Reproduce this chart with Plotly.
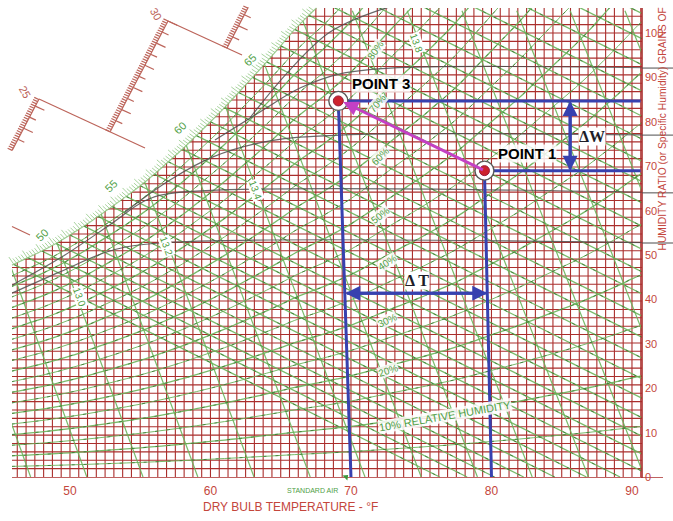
import numpy as np
import plotly.graph_objects as go

# ---------------------------------------------------------------- chart data
# Saturation humidity ratio (grains of moisture per lb of dry air) by dry-bulb °F
T_SAT = list(range(45, 92))
W_SAT = [46.4, 47.9, 49.4, 50.9, 52.6, 54.5, 56.5, 58.7, 60.9, 63.2,
         65.6, 68.2, 71.0, 73.8, 76.9, 80.0, 83.2, 86.6, 90.0, 93.5,
         97.1, 100.8, 104.0, 107.0, 110.4, 114.0, 118.1, 122.4, 126.7, 130.8,
         135.0, 139.5, 144.0, 149.0, 154.5, 160.0, 165.5, 171.0, 177.0, 183.0,
         189.0, 195.0, 201.5, 208.5, 215.5, 223.0, 230.0]

RH_LINES = [5, 10, 15, 20, 25, 30, 35, 40, 45, 50, 55, 60, 65, 70, 75, 80, 85, 90, 95]
RH_LABELS = ["10% RELATIVE HUMIDITY", "20%", "30%", "40%", "50%", "60%", "70%", "80%"]

WB_TEMPS = list(range(46, 91))          # wet-bulb lines, °F at saturation
WB_SLOPE = 1.58                         # grains lost per °F along a wet-bulb line

SV_VALUES = [12.8, 12.9, 13.0, 13.1, 13.2, 13.3, 13.4, 13.5, 13.6, 13.7, 13.8, 13.9, 14.0, 14.1, 14.2]
SV_T_DRY = [47.2, 51.2, 55.2, 59.1, 63.1, 67.1, 71.0, 75.0, 79.0, 82.9, 86.9, 90.9, 94.8, 98.8, 102.8]
SV_T_TOP = [35.3, 39.2, 43.0, 46.9, 50.8, 54.7, 58.5, 62.4, 66.3, 70.1, 74.0, 77.9, 81.8, 85.6, 89.5]
SV_W_TOP = 105.0
SV_LABELS = ["13.0", "13.2", "13.4", "13.8"]

WB_LABELS = ["50", "55", "60", "65"]

# dark constant-moisture curves (dry-bulb °F, grains)
DARK_T = [[45.87, 49.29, 52.85, 56.41, 92.92],
          [45.87, 49.29, 52.85, 55.34, 57.47, 92.92],
          [53.92, 57.12, 60.18, 64.23, 69.22, 92.92],
          [60.32, 63.52, 66.37, 69.22, 72.78, 92.92],
          [62.81, 65.66, 68.51, 72.07, 74.91]]
DARK_W = [[41.4, 46.2, 50.9, 52.7, 52.7],
          [43.2, 49.3, 56.8, 62.2, 64.0, 64.0],
          [59.7, 66.9, 72.1, 75.7, 77.0, 77.0],
          [75.9, 82.2, 87.6, 90.8, 92.1, 92.1],
          [80.9, 91.7, 100.2, 105.2, 107.4]]

POINT_NAMES = ["POINT 1", "POINT 3"]
POINT_T = [79.5, 69.1]
POINT_W = [69.0, 84.7]
DROP_T = [80.0, 70.0]            # where each state point drops onto the dry-bulb axis
DELTA_T_AT_W = 41.4
DELTA_T_ENDS = [69.6, 79.7]
DELTA_W_AT_T = 85.6

ENTHALPY_MARKS = ["25", "30"]

X_TICKS = [50, 60, 70, 80, 90]
Y_TICKS = [0, 10, 20, 30, 40, 50, 60, 70, 80, 90, 100]

# ---------------------------------------------------------------- geometry
W_PX, H_PX, B_MARGIN = 673, 521, 43
PLOT_H = H_PX - B_MARGIN
T_MIN, T_MAX = 45.02, 92.92
W_MIN, W_MAX = -0.23, 107.43
PX_T = W_PX / (T_MAX - T_MIN)
PX_W = PLOT_H / (W_MAX - W_MIN)


def px2t(x):
    return T_MIN + x / PX_T


def px2w(y):
    return W_MAX - y / PX_W


def t2px(t):
    return (t - T_MIN) * PX_T


def w2px(w):
    return (W_MAX - w) * PX_W


T_LEFT, T_RIGHT, W_TOP = px2t(12), px2t(642), px2w(8)

RED = "rgb(170,46,44)"
RED_TXT = "rgb(196,70,60)"
GREEN = "rgba(105,180,90,0.9)"
GREEN_DASH = "rgba(50,110,45,0.75)"
GREEN_TXT = "rgb(80,160,70)"
DARK = "rgba(80,80,80,0.85)"
BLUE = "rgb(55,65,175)"
MAGENTA = "rgb(196,64,196)"
RULER = "rgb(188,100,90)"
NARROW = "Liberation Sans Narrow, Arial Narrow, Liberation Sans, Arial, sans-serif"

fig = go.Figure()


def segs(pairs):
    xs, ys = [], []
    for (a, b) in pairs:
        xs += [a[0], b[0], None]
        ys += [a[1], b[1], None]
    return xs, ys


def add_lines(xs, ys, color, width, dash=None, shape="linear"):
    fig.add_trace(go.Scatter(x=xs, y=ys, mode="lines", hoverinfo="skip",
                             line=dict(color=color, width=width, dash=dash, shape=shape)))


# red graph-paper grid
v_lines = np.arange(46.25, T_RIGHT, 0.625)
xs, ys = segs([((t, 0), (t, W_TOP)) for t in v_lines])
add_lines(xs, ys, RED, 1.1)
h_lines = np.arange(100 / 53, W_TOP, 100 / 53)
xs, ys = segs([((T_LEFT, w), (T_RIGHT, w)) for w in h_lines])
add_lines(xs, ys, RED, 1.1)

# wet-bulb lines
wb = []
for t in WB_TEMPS:
    ws = W_SAT[T_SAT.index(t)]
    wb.append(((t, ws), (t + ws / WB_SLOPE, 0)))
xs, ys = segs(wb)
add_lines(xs, ys, GREEN, 1.3)
add_lines(xs, ys, GREEN_DASH, 1, dash="3px,9px")

# specific-volume lines
xs, ys = segs([((a, 0), (b, SV_W_TOP)) for a, b in zip(SV_T_DRY, SV_T_TOP)])
add_lines(xs, ys, GREEN, 1.2)

# relative-humidity curves
for p in RH_LINES:
    rh_w = [p / 100 * w for w in W_SAT]
    add_lines(T_SAT, rh_w, GREEN, 1.3 if p % 10 == 0 else 1.0, shape="spline")
    add_lines(T_SAT, rh_w, GREEN_DASH, 1, dash="3px,9px", shape="spline")

# dark curves
for dt, dw in zip(DARK_T, DARK_W):
    add_lines(dt, dw, DARK, 1.2, shape="spline")

# white mask outside the chart region (above saturation, left, right, top)
mx, my = [], []
mx += [44.0, T_LEFT, T_LEFT, 44.0, 44.0, None]
my += [-2, -2, 112, 112, -2, None]
w_left = W_SAT[0] + (T_LEFT - T_SAT[0]) * (W_SAT[1] - W_SAT[0])
curve_t = [T_LEFT] + [t for t, w in zip(T_SAT, W_SAT) if T_LEFT < t and w < W_TOP]
curve_w = [w_left] + [w for t, w in zip(T_SAT, W_SAT) if T_LEFT < t and w < W_TOP]
next_w = W_SAT[T_SAT.index(curve_t[-1]) + 1]
t_cross = curve_t[-1] + (W_TOP - curve_w[-1]) / (next_w - curve_w[-1])
curve_t.append(t_cross)
curve_w.append(W_TOP)
mx += curve_t + [T_RIGHT, T_RIGHT, T_LEFT, T_LEFT, None]
my += curve_w + [W_TOP, 112, 112, w_left, None]
mx += [T_RIGHT, 94, 94, T_RIGHT, T_RIGHT]
my += [-2, -2, 112, 112, -2]
fig.add_trace(go.Scatter(x=mx, y=my, mode="lines", fill="toself", fillcolor="white",
                         line=dict(width=0, color="white"), hoverinfo="skip"))

# saturation curve with hatching
HATCH = "rgba(125,190,110,0.75)"
add_lines(curve_t, curve_w, HATCH, 1.2, shape="spline")
cx = np.array([t2px(t) for t in curve_t])
cy = np.array([w2px(w) for w in curve_w])
seg_len = np.hypot(np.diff(cx), np.diff(cy))
arc = np.concatenate([[0], np.cumsum(seg_len)])
hatch = []
for k, s in enumerate(np.arange(2, arc[-1] - 1, 3.0)):
    px_ = np.interp(s, arc, cx)
    py_ = np.interp(s, arc, cy)
    j = min(np.searchsorted(arc, s) - 1, len(seg_len) - 1)
    tx_, ty_ = (cx[j + 1] - cx[j]) / seg_len[j], (cy[j + 1] - cy[j]) / seg_len[j]
    nx_, ny_ = ty_, -tx_
    L = 8 if k % 5 == 0 else 5
    hatch.append(((px2t(px_), px2w(py_)), (px2t(px_ + L * nx_ - 1.5), px2w(py_ + L * ny_))))
xs, ys = segs(hatch)
add_lines(xs, ys, HATCH, 0.9)

# axes drawn as red rules
add_lines([T_LEFT, px2t(663)], [px2w(478), px2w(478)], RED, 1.6)
add_lines([T_RIGHT, T_RIGHT], [px2w(484), W_TOP], RED, 1.6)

# constant-moisture lines running out past the right axis
for dw in DARK_W[:4]:
    add_lines([T_RIGHT, T_MAX], [dw[-1], dw[-1]], DARK, 1.2)

# stepped enthalpy ruler
d_con = np.array([0.908, 0.42])
u_sp = np.array([0.463, -0.886])
ruler = []
topA = np.array([39.0, 99.0])
botA = topA - 58.0 * u_sp
topB = np.array([168.0, 21.0])
botB = topB - 125.0 * u_sp
botC = np.array([227.0, 48.0])
topC = botC + 46.0 * u_sp
connectors = [(np.array([12.0, 226.5]), np.array([30.0, 235.0])),
              (topA, np.array([145.0, 148.0])),
              (topB, np.array([242.0, 55.0]))]
for a, b in connectors + [(botA, topA), (botB, topB), (botC, topC)]:
    ruler.append(((px2t(a[0]), px2w(a[1])), (px2t(b[0]), px2w(b[1]))))
for base, length in [(botA, 58.0), (botB, 125.0), (botC, 46.0)]:
    n = int(length / 2.5)
    for k in range(n + 1):
        p = base + k * 2.5 * u_sp
        ruler.append(((px2t(p[0]), px2w(p[1])), (px2t(p[0] - 5 * d_con[0]), px2w(p[1] - 5 * d_con[1]))))
        if k % 5 == 0 and k > 0:
            ln = 10 if k % 10 == 0 else 7
            ruler.append(((px2t(p[0]), px2w(p[1])), (px2t(p[0] + ln * d_con[0]), px2w(p[1] + ln * d_con[1]))))
xs, ys = segs(ruler)
add_lines(xs, ys, RULER, 1.2)

# process lines
add_lines([POINT_T[1], DROP_T[1]], [POINT_W[1], 0], BLUE, 3)
add_lines([POINT_T[0], DROP_T[0]], [POINT_W[0], 0], BLUE, 3)
add_lines([POINT_T[1], T_RIGHT - 0.1], [POINT_W[1], POINT_W[1]], BLUE, 3)
add_lines([POINT_T[0], T_RIGHT - 0.1], [POINT_W[0], POINT_W[0]], BLUE, 3)

annotations = []


def arrow(x, y, ax, ay, color, width=3):
    annotations.append(dict(x=x, y=y, ax=ax, ay=ay, xref="x", yref="y", axref="x", ayref="y",
                            showarrow=True, arrowhead=2, arrowsize=1, arrowwidth=width,
                            arrowcolor=color, text=""))


arrow(DELTA_T_ENDS[1], DELTA_T_AT_W, DELTA_T_ENDS[0], DELTA_T_AT_W, BLUE)
arrow(DELTA_T_ENDS[0], DELTA_T_AT_W, DELTA_T_ENDS[1], DELTA_T_AT_W, BLUE)
arrow(DELTA_W_AT_T, POINT_W[1], DELTA_W_AT_T, POINT_W[0], BLUE)
arrow(DELTA_W_AT_T, POINT_W[0], DELTA_W_AT_T, POINT_W[1], BLUE)
arrow(POINT_T[1] + 0.35, POINT_W[1] - 0.25, POINT_T[0], POINT_W[0], MAGENTA)

# state points
fig.add_trace(go.Scatter(x=POINT_T, y=POINT_W, mode="markers", hoverinfo="skip",
                         marker=dict(size=19, color="white", line=dict(color="rgb(90,90,90)", width=1.4))))
fig.add_trace(go.Scatter(x=POINT_T, y=POINT_W, mode="markers", hoverinfo="skip",
                         marker=dict(size=10, color="rgb(205,35,45)", line=dict(color="rgb(150,30,60)", width=1))))


def label(x, y, text, size, color, angle=0, family=NARROW, bg=None, xanchor="center", yanchor="middle"):
    annotations.append(dict(x=px2t(x), y=px2w(y), xref="x", yref="y", text=text, showarrow=False,
                            textangle=angle, font=dict(size=size, color=color, family=family),
                            bgcolor=bg, borderpad=0, xanchor=xanchor, yanchor=yanchor))


def below_label(x, y, text, size, color):
    # text under the plotting area, placed in paper units vertically
    annotations.append(dict(x=px2t(x), y=(PLOT_H - y) / PLOT_H, xref="x", yref="paper", text=text,
                            showarrow=False, font=dict(size=size, color=color, family=NARROW),
                            xanchor="center", yanchor="middle"))


label(381, 83, "<b>" + POINT_NAMES[1] + "</b>", 15, "black", family="Liberation Sans, Arial",
      bg="rgba(255,255,255,0.85)")
label(527, 153, "<b>" + POINT_NAMES[0] + "</b>", 15, "black", family="Liberation Sans, Arial",
      bg="rgba(255,255,255,0.85)")
label(592, 136, "<b>ΔW</b>", 16, "rgb(30,30,40)", family="Liberation Serif, Times New Roman", bg="white")
label(417, 280, "<b>Δ T</b>", 16, "rgb(30,30,40)", family="Liberation Serif, Times New Roman", bg="white")

# relative humidity labels
rh_pos = [(445, 416, -10), (388, 370, -18), (387, 320, -25), (387, 262, -32),
          (380, 215, -38), (380, 156, -45), (377, 103, -50), (375, 50, -55)]
for txt, (x, y, a) in zip(RH_LABELS, rh_pos):
    label(x, y, txt, 11 if len(txt) > 4 else 10, GREEN_TXT, a, bg="rgba(255,255,255,0.85)")

# specific volume labels
for txt, (x, y) in zip(SV_LABELS, [(80, 297), (167, 246), (256, 190), (417, 43)]):
    label(x, y, txt, 10, GREEN_TXT, 70, bg="white")

# wet-bulb labels on the saturation curve
for txt, (x, y) in zip(WB_LABELS, [(42, 235), (111, 186), (180, 128), (250, 60)]):
    label(x, y, txt, 11, GREEN_TXT, -45)

# enthalpy ruler figures
for txt, (x, y) in zip(ENTHALPY_MARKS, [(25, 92), (156, 14)]):
    label(x, y, txt, 11, RULER, 60)

# right-hand humidity ratio scale
for v in Y_TICKS:
    label(644, w2px(v), str(v), 11, RED_TXT, xanchor="left")
annotations.append(dict(x=px2t(662), y=px2w(253), xref="x", yref="y", showarrow=False,
                        text="HUMIDITY RATIO (or Specific Humidity) GRAINS OF",
                        textangle=-90, xanchor="center", yanchor="bottom",
                        font=dict(size=10.3, color=RED_TXT, family=NARROW)))

below_label(290, 507, "DRY BULB TEMPERATURE - °F", 12, RED_TXT)
below_label(312, 490, "STANDARD AIR", 7, GREEN_TXT)
fig.add_trace(go.Scatter(x=[px2t(346)], y=[px2w(477)], mode="markers", hoverinfo="skip",
                         cliponaxis=False,
                         marker=dict(symbol="triangle-up", size=6, color="rgb(60,150,60)", angle=45)))

fig.update_layout(
    width=W_PX, height=H_PX,
    margin=dict(l=0, r=0, t=0, b=B_MARGIN),
    paper_bgcolor="white", plot_bgcolor="white",
    showlegend=False,
    annotations=annotations,
    xaxis=dict(range=[T_MIN, T_MAX], showgrid=False, zeroline=False, showline=False,
               tickvals=X_TICKS, ticktext=[str(v) for v in X_TICKS], ticks="",
               ticklabelstandoff=4,
               tickfont=dict(size=12, color=RED_TXT, family=NARROW), fixedrange=True),
    yaxis=dict(range=[W_MIN, W_MAX], showgrid=False, zeroline=False, showline=False,
               showticklabels=False, ticks="", fixedrange=True),
)

fig.write_html("out.html")
